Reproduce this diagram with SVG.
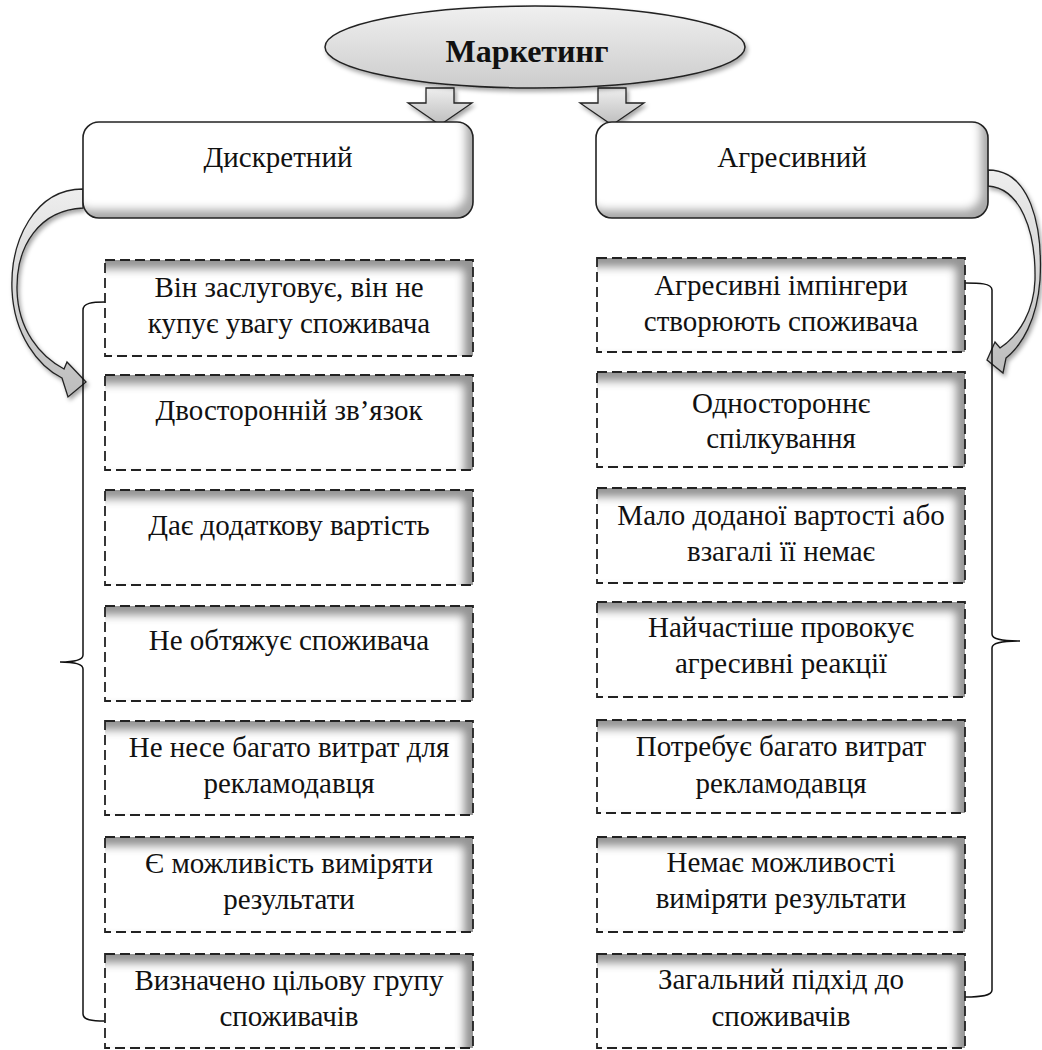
<svg xmlns="http://www.w3.org/2000/svg" width="1042" height="1050" viewBox="0 0 1042 1050">
<style>
text{font-family:"Liberation Serif","Times New Roman",serif;font-size:29px;fill:#111;text-anchor:middle}
.title{font-size:32px;font-weight:bold}
.fillbox{fill:#fff;stroke:none;filter:url(#insetTR)}
.dash{fill:none;stroke:#222;stroke-width:1.8;stroke-dasharray:10 5}
.head{fill:#fff;stroke:none;filter:url(#insetBR)}
.headline{fill:none;stroke:#222;stroke-width:1.6}
.blk{fill:url(#gray);stroke:#222;stroke-width:1.3;filter:url(#shadow)}
.brace{fill:none;stroke:#111;stroke-width:1.5}
</style>
<defs>
<linearGradient id="gray" x1="0" y1="0" x2="0" y2="1">
<stop offset="0" stop-color="#eeeeee"/><stop offset="1" stop-color="#bdbdbd"/>
</linearGradient>
<linearGradient id="ell" x1="0" y1="0" x2="0" y2="1">
<stop offset="0" stop-color="#f0f0f0"/><stop offset="1" stop-color="#cccccc"/>
</linearGradient>
<filter id="shadow" x="-10%" y="-10%" width="130%" height="130%">
<feDropShadow dx="2" dy="3" stdDeviation="2" flood-opacity="0.35"/>
</filter>
<filter id="insetTR" x="-5%" y="-5%" width="110%" height="110%">
<feOffset in="SourceAlpha" dx="-10" dy="10" result="o"/>
<feGaussianBlur in="o" stdDeviation="4" result="b"/>
<feComposite in="SourceAlpha" in2="b" operator="out" result="inv"/>
<feFlood flood-color="#000" flood-opacity="0.7"/>
<feComposite in2="inv" operator="in" result="sh"/>
<feMerge><feMergeNode in="SourceGraphic"/><feMergeNode in="sh"/></feMerge>
</filter>
<filter id="insetBR" x="-5%" y="-5%" width="110%" height="115%">
<feOffset in="SourceAlpha" dx="-8" dy="-9" result="o"/>
<feGaussianBlur in="o" stdDeviation="4" result="b"/>
<feComposite in="SourceAlpha" in2="b" operator="out" result="inv"/>
<feFlood flood-color="#000" flood-opacity="0.6"/>
<feComposite in2="inv" operator="in" result="sh"/>
<feMerge><feMergeNode in="SourceGraphic"/><feMergeNode in="sh"/></feMerge>
</filter>
</defs>

<g id="connectors">
<path class="blk" d="M426,88 L454,88 L454,103 L472,103 L440,125 L408,103 L426,103 Z"/>
<path class="blk" d="M598,88 L626,88 L626,103 L644,103 L612,125 L580,103 L598,103 Z"/>
<path class="blk" d="M83,189 C35,189 10,240 12,290 C14,335 38,366 62,378 L68,397 L86,382 L67,362 L64,369 C40,356 18,330 17,290 C16,245 40,210 83,208 Z"/>
<path class="blk" d="M988,170 C1030,170 1043,225 1040,280 C1037,320 1022,345 1006,358 L1003,373 L987,360 L995,342 L1000,348 C1020,335 1034,310 1035,280 C1036,230 1020,188 988,186 Z"/>
<path class="brace" d="M105,302 C92,302 83,303 83,310 L83,655 C83,660 75,662 60,662 C75,662 83,664 83,669 L83,1014 C83,1020 92,1021 105,1021"/>
<path class="brace" d="M965,283 C978,283 992,283 992,290 L992,634 C992,639 1000,641 1020,641 C1000,641 992,643 992,648 L992,990 C992,996 980,997 965,997"/>
</g>

<g id="marketing">
<ellipse cx="535" cy="47" rx="210" ry="41" fill="url(#ell)" stroke="#222" stroke-width="1.5" filter="url(#shadow)"/>
<text class="title" x="527" y="62">Маркетинг</text>
</g>

<g id="discrete">
<rect class="head" x="83" y="122" width="390" height="96" rx="16"/>
<rect class="headline" x="83" y="122" width="390" height="96" rx="16"/>
<text x="278" y="167">Дискретний</text>
</g>
<g id="aggressive">
<rect class="head" x="596" y="122" width="392" height="96" rx="16"/>
<rect class="headline" x="596" y="122" width="392" height="96" rx="16"/>
<text x="792" y="167">Агресивний</text>
</g>

<g id="l1"><rect class="fillbox" x="105" y="260" width="368" height="96"/><rect class="dash" x="105" y="260" width="368" height="96"/><text x="289" y="297">Він заслуговує, він не</text><text x="289" y="333">купує увагу споживача</text></g>
<g id="l2"><rect class="fillbox" x="105" y="375" width="368" height="95"/><rect class="dash" x="105" y="375" width="368" height="95"/><text x="289" y="420">Двосторонній зв’язок</text></g>
<g id="l3"><rect class="fillbox" x="105" y="490" width="368" height="95"/><rect class="dash" x="105" y="490" width="368" height="95"/><text x="289" y="535">Дає додаткову вартість</text></g>
<g id="l4"><rect class="fillbox" x="105" y="606" width="368" height="95"/><rect class="dash" x="105" y="606" width="368" height="95"/><text x="289" y="650">Не обтяжує споживача</text></g>
<g id="l5"><rect class="fillbox" x="105" y="721" width="368" height="94"/><rect class="dash" x="105" y="721" width="368" height="94"/><text x="289" y="757">Не несе багато витрат для</text><text x="289" y="793">рекламодавця</text></g>
<g id="l6"><rect class="fillbox" x="105" y="837" width="368" height="95"/><rect class="dash" x="105" y="837" width="368" height="95"/><text x="289" y="873">Є можливість виміряти</text><text x="289" y="909">результати</text></g>
<g id="l7"><rect class="fillbox" x="105" y="954" width="368" height="94"/><rect class="dash" x="105" y="954" width="368" height="94"/><text x="289" y="990">Визначено цільову групу</text><text x="289" y="1026">споживачів</text></g>

<g id="r1"><rect class="fillbox" x="597" y="258" width="368" height="94"/><rect class="dash" x="597" y="258" width="368" height="94"/><text x="781" y="295">Агресивні імпінгери</text><text x="781" y="331">створюють споживача</text></g>
<g id="r2"><rect class="fillbox" x="597" y="372" width="368" height="95"/><rect class="dash" x="597" y="372" width="368" height="95"/><text x="781" y="413">Одностороннє</text><text x="781" y="448">спілкування</text></g>
<g id="r3"><rect class="fillbox" x="597" y="488" width="368" height="95"/><rect class="dash" x="597" y="488" width="368" height="95"/><text x="781" y="525">Мало доданої вартості або</text><text x="781" y="561">взагалі її немає</text></g>
<g id="r4"><rect class="fillbox" x="597" y="602" width="368" height="95"/><rect class="dash" x="597" y="602" width="368" height="95"/><text x="781" y="637">Найчастіше провокує</text><text x="781" y="673">агресивні реакції</text></g>
<g id="r5"><rect class="fillbox" x="597" y="720" width="368" height="93"/><rect class="dash" x="597" y="720" width="368" height="93"/><text x="781" y="756">Потребує багато витрат</text><text x="781" y="793">рекламодавця</text></g>
<g id="r6"><rect class="fillbox" x="597" y="837" width="368" height="95"/><rect class="dash" x="597" y="837" width="368" height="95"/><text x="781" y="872">Немає можливості</text><text x="781" y="908">виміряти результати</text></g>
<g id="r7"><rect class="fillbox" x="597" y="954" width="368" height="94"/><rect class="dash" x="597" y="954" width="368" height="94"/><text x="781" y="989">Загальний підхід до</text><text x="781" y="1026">споживачів</text></g>
</svg>
